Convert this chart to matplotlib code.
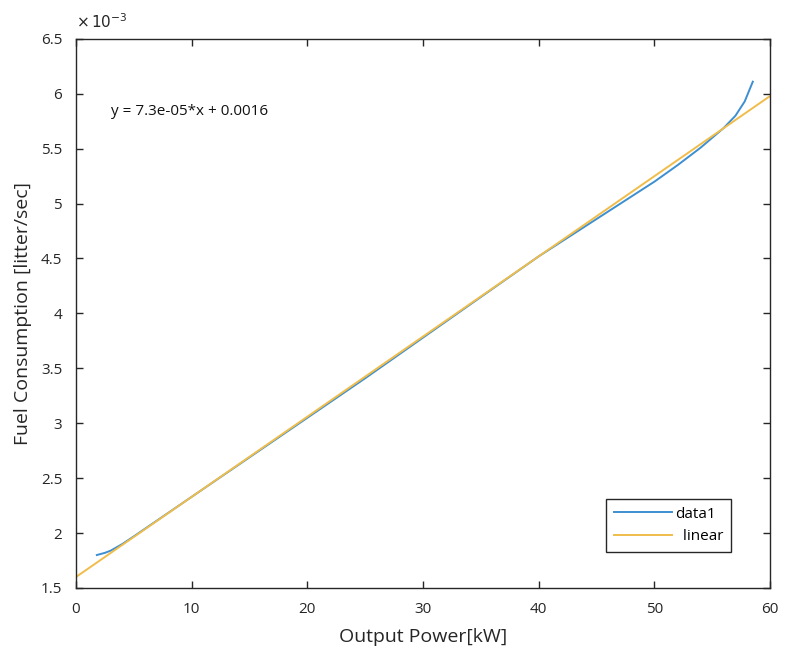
import matplotlib.pyplot as plt
from matplotlib.ticker import FuncFormatter
import numpy as np

# measured fuel consumption vs output power
power_kw = [1.8, 2.5, 3.0, 4.0, 5.0, 7.5, 10, 15, 20, 25, 30, 35, 40, 45, 50, 52, 54, 55, 56, 57, 57.8, 58.5]
fuel_lps = [0.00180, 0.00182, 0.00184, 0.00190, 0.00197, 0.00215, 0.00233, 0.00269, 0.00305, 0.00341,
            0.00378, 0.00415, 0.00452, 0.00486, 0.00520, 0.00535, 0.00551, 0.00560, 0.00569, 0.00580,
            0.00593, 0.00611]

# linear fit coefficients
slope = 7.3e-05
intercept = 0.0016
fit_x = [0, 60]

plt.rcParams['font.family'] = ['Open Sans', 'DejaVu Sans']

fig = plt.figure(figsize=(7.87, 6.64), dpi=100)
ax = fig.add_axes([0.0966, 0.1145, 0.882, 0.827])

ax.plot(power_kw, fuel_lps, color='#3d8fd1', lw=1.4, label='data1')
fit_y = [slope * x + intercept for x in fit_x]
ax.plot(fit_x, fit_y, color='#f0bd4a', lw=1.4, label='  linear')

ax.set_xlim(0, 60)
ax.set_ylim(0.0015, 0.0065)
ax.set_xticks(np.arange(0, 61, 10))
ax.set_yticks(np.arange(0.0015, 0.00651, 0.0005))
ax.yaxis.set_major_formatter(FuncFormatter(lambda v, p: '%g' % round(v * 1e3, 2)))
ax.tick_params(direction='in', top=True, right=True, length=5, width=1,
               labelsize=11, colors='#262626', pad=10)
for s in ax.spines.values():
    s.set_color('#262626')
    s.set_linewidth(1)

ax.text(0.0, 1.012, r'$\times\,10^{-3}$', transform=ax.transAxes, fontsize=11,
        color='#262626', va='bottom', ha='left')

ax.text(3.0, 0.00584, 'y = 7.3e-05*x + 0.0016', fontsize=11, color='#111111', va='center')

ax.set_xlabel('Output Power[kW]', fontsize=14, color='#262626', labelpad=8)
ax.set_ylabel('Fuel Consumption [litter/sec]', fontsize=14, color='#262626', labelpad=6)

leg = ax.legend(loc='lower right', bbox_to_anchor=(0.955, 0.052), fontsize=11,
                fancybox=False, framealpha=1, edgecolor='#262626', handlelength=3.8,
                borderpad=0.5, labelspacing=0.5, handletextpad=0.2)
leg.get_frame().set_linewidth(1)

plt.savefig('out.png', dpi=100)
